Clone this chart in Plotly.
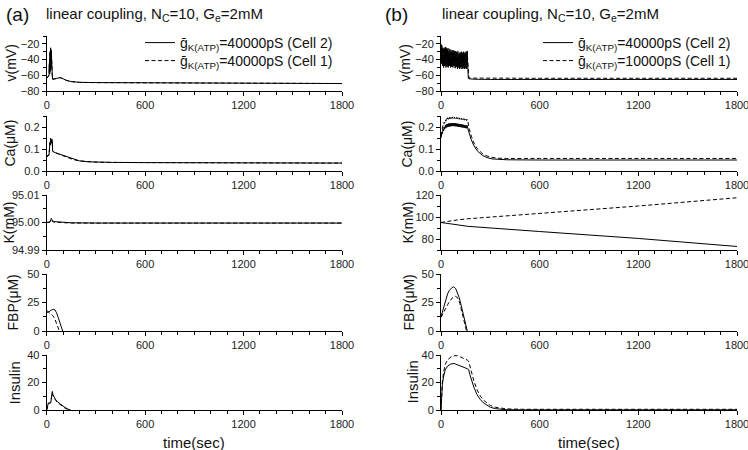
import plotly.graph_objects as go

# ---------------- data: panel (a) ----------------
a_v_t = [0, 5, 10, 14, 16, 18, 20, 22, 24, 26, 28, 30, 32, 34, 36, 40, 50, 60, 70, 80, 90, 100, 120, 150, 200, 300, 600, 1200, 1800]
a_v_c2 = [-64, -62, -61, -60, -45, -58, -30, -55, -25, -50, -28, -54, -40, -60, -65, -65, -64.5, -64, -63.5, -63, -63.5, -64.5, -66.5, -68, -69, -69.3, -69.5, -69.8, -70.5]
a_v_c1 = [-64, -62, -61, -60, -48, -58, -33, -55, -27, -51, -30, -54, -42, -60, -65, -65, -64.5, -64, -63.5, -63, -63.5, -64.5, -66.5, -68, -69, -69.3, -69.5, -69.8, -70.5]

a_ca_t = [0, 3, 5, 14, 16, 20, 22, 24, 26, 28, 30, 32, 34, 36, 40, 50, 70, 100, 130, 160, 200, 250, 300, 400, 600, 1200, 1800]
a_ca_c2 = [0.062, 0.066, 0.070, 0.072, 0.110, 0.130, 0.120, 0.150, 0.125, 0.140, 0.130, 0.145, 0.135, 0.092, 0.088, 0.084, 0.079, 0.070, 0.061, 0.053, 0.046, 0.042, 0.040, 0.039, 0.038, 0.037, 0.036]
a_ca_c1 = [0.062, 0.066, 0.070, 0.072, 0.105, 0.128, 0.118, 0.145, 0.122, 0.137, 0.128, 0.140, 0.132, 0.090, 0.087, 0.083, 0.078, 0.069, 0.060, 0.052, 0.046, 0.042, 0.040, 0.039, 0.038, 0.037, 0.036]

a_k_t = [0, 20, 25, 28, 32, 36, 50, 80, 120, 150, 300, 600, 1200, 1800]
a_k_c2 = [95.0, 95.0002, 95.0010, 95.0015, 95.0010, 95.0005, 95.0003, 95.0002, 95.0, 94.9999, 94.9998, 94.9998, 94.9998, 94.9998]
a_k_c1 = [95.0, 95.0001, 95.0006, 95.0009, 95.0006, 95.0003, 95.0001, 95.0, 94.9999, 94.9998, 94.9998, 94.9998, 94.9998, 94.9998]

a_fbp_t2 = [0, 10, 20, 30, 40, 50, 60, 70, 80, 90, 97]
a_fbp_c2 = [16, 16.5, 17.5, 18.5, 19, 18.5, 16, 12, 7.5, 3, 0]
a_fbp_t1 = [0, 10, 20, 30, 40, 50, 60, 70, 77]
a_fbp_c1 = [18, 16.5, 15.5, 14.5, 13, 10.5, 7, 3, 0]

a_ins_t = [0, 3, 6, 10, 20, 25, 30, 34, 38, 45, 55, 65, 75, 90, 110, 130, 145]
a_ins_c2 = [0, 2, 4.5, 5, 5, 5.5, 10, 13.5, 11, 9, 7.5, 6, 5, 3.5, 2, 0.6, 0]
a_ins_c1 = [0, 2, 4.5, 5, 5, 5.5, 10, 12.5, 10.5, 8.5, 7, 5.5, 4.5, 3, 1.5, 0.3, 0]

# ---------------- data: panel (b) ----------------
b_burst_t = [0, 2, 5, 9, 12, 16, 19, 23, 26, 30, 33, 37, 40, 44, 47, 51, 54, 58, 61, 65, 68, 72, 75, 79, 82, 86,
             89, 93, 96, 100, 103, 107, 110, 114, 117, 121, 124, 128, 131, 135, 138, 142, 145, 149, 152, 156, 159, 163, 166]
b_v_tail_t = [170, 200, 300, 600, 1200, 1800]
b_v_c2 = [-20, -45, -22, -48, -25, -50, -27, -48, -24, -50, -28, -49, -26, -50, -30, -48, -27, -50, -31, -49, -28, -50,
          -32, -48, -29, -51, -33, -49, -30, -52, -34, -50, -31, -52, -35, -50, -30, -52, -33, -51, -30, -52, -34, -51,
          -30, -52, -29, -52, -64,
          -64.5, -65, -65.3, -65.3, -65.3, -65.3]
b_v_c1 = [-22, -42, -24, -46, -27, -47, -24, -46, -28, -47, -25, -46, -29, -48, -26, -47, -30, -46, -27, -48, -30, -47,
          -28, -48, -31, -47, -28, -49, -32, -48, -29, -49, -33, -48, -30, -50, -34, -48, -31, -49, -32, -50, -30, -49,
          -33, -50, -31, -49, -63,
          -63.3, -63.6, -63.8, -63.8, -63.8, -63.8]

b_ca_tail_t = [170, 185, 200, 220, 250, 280, 310, 350, 400, 600, 1200, 1800]
b_ca_c2 = [0.150, 0.155, 0.172, 0.170, 0.190, 0.182, 0.200, 0.190, 0.208, 0.196, 0.212, 0.199, 0.214, 0.201, 0.216,
           0.202, 0.217, 0.203, 0.218, 0.204, 0.218, 0.204, 0.218, 0.204, 0.217, 0.203, 0.217, 0.203, 0.216, 0.202,
           0.215, 0.201, 0.214, 0.200, 0.213, 0.199, 0.212, 0.198, 0.211, 0.197, 0.210, 0.196, 0.209, 0.195, 0.208,
           0.194, 0.207, 0.193, 0.185,
           0.170, 0.140, 0.115, 0.092, 0.072, 0.061, 0.055, 0.052, 0.051, 0.050, 0.050, 0.050]
b_ca_c1 = [0.160, 0.168, 0.185, 0.190, 0.207, 0.205, 0.222, 0.218, 0.232, 0.226, 0.238, 0.232, 0.242, 0.235, 0.244,
           0.237, 0.245, 0.238, 0.246, 0.239, 0.246, 0.239, 0.246, 0.239, 0.245, 0.238, 0.245, 0.238, 0.244, 0.237,
           0.243, 0.236, 0.242, 0.235, 0.241, 0.234, 0.240, 0.233, 0.239, 0.232, 0.238, 0.231, 0.237, 0.230, 0.236,
           0.229, 0.235, 0.228, 0.215,
           0.195, 0.158, 0.128, 0.102, 0.080, 0.068, 0.062, 0.058, 0.057, 0.057, 0.057, 0.057]

b_k_t = [0, 50, 100, 165, 600, 1200, 1800]
b_k_c2 = [95, 93.9, 92.8, 91.5, 86.8, 80.5, 73.2]
b_k_c1 = [95, 96.3, 97.4, 98.4, 103.3, 110.0, 117.5]

b_fbp_t2 = [0, 10, 20, 30, 40, 50, 60, 70, 75, 80, 90, 100, 110, 120, 130, 140, 150, 160]
b_fbp_c2 = [12.5, 18, 23.5, 28.5, 32.5, 35.5, 37.5, 38.5, 38.7, 38.5, 37, 34, 29.5, 24, 18, 12, 6, 0]
b_fbp_t1 = [0, 10, 20, 30, 40, 50, 60, 70, 80, 87, 95, 105, 115, 125, 135, 145, 155]
b_fbp_c1 = [12, 15, 18, 20.5, 23, 25.5, 27.5, 29.3, 30.3, 30.5, 30, 28, 24, 18.5, 12.5, 6.5, 0]

b_ins_t = [0, 3, 8, 15, 25, 40, 60, 80, 100, 120, 140, 160, 168, 175, 185, 200, 220, 240, 260, 280, 300, 330, 360, 400, 500, 1800]
b_ins_c2 = [0, 8, 18, 24, 29, 32, 33.5, 33.8, 33, 32, 31, 30, 29.5, 26, 22, 16.5, 11, 7.5, 5, 3.2, 2, 1, 0.5, 0.2, 0.1, 0.1]
b_ins_c1 = [0, 10, 20, 27, 33, 36.5, 38.5, 39.5, 39.5, 38.5, 37.5, 36.3, 35.5, 32, 27, 21, 14.5, 10, 7, 4.8, 3.3, 2, 1.3, 0.8, 0.5, 0.5]

x_ticks = [0, 600, 1200, 1800]
legend_a = ["ḡ<sub>K(ATP)</sub>=40000pS (Cell 2)", "ḡ<sub>K(ATP)</sub>=40000pS (Cell 1)"]
legend_b = ["ḡ<sub>K(ATP)</sub>=40000pS (Cell 2)", "ḡ<sub>K(ATP)</sub>=10000pS (Cell 1)"]
y_titles = ["v(mV)", "Ca(μM)", "K(mM)", "FBP(μM)", "Insulin"]

# ---------------- layout helpers ----------------
W, H = 748, 450
col_px = [(46.7, 342.0), (441.0, 737.0)]
row_px = [(36, 91), (116, 171), (195, 250), (274, 331), (355, 410)]
title_x = [[11, 9, 8, 12, 14], [405, 406, 407, 408, 412]]
legend_px = [(140, 43, 61), (538, 43, 61)]   # x of legend box, y of row 1, y of row 2
FONT = "Liberation Sans, Arial, sans-serif"

panels = [
    (0, 0, (a_v_t, a_v_c2, a_v_t, a_v_c1), dict(range=[-80, -10], dtick=20, tick0=-80, minor=10, fmt=None)),
    (0, 1, (a_ca_t, a_ca_c2, a_ca_t, a_ca_c1), dict(range=[0, 0.25], dtick=0.1, tick0=0, minor=0.05, fmt=".1f")),
    (0, 2, (a_k_t, a_k_c2, a_k_t, a_k_c1), dict(range=[94.99, 95.01], dtick=0.01, tick0=94.99, minor=0.005, fmt=".2f")),
    (0, 3, (a_fbp_t2, a_fbp_c2, a_fbp_t1, a_fbp_c1), dict(range=[0, 50], dtick=25, tick0=0, minor=12.5, fmt=None)),
    (0, 4, (a_ins_t, a_ins_c2, a_ins_t, a_ins_c1), dict(range=[0, 40], dtick=20, tick0=0, minor=10, fmt=None)),
    (1, 0, (b_burst_t + b_v_tail_t, b_v_c2, b_burst_t + b_v_tail_t, b_v_c1), dict(range=[-80, -10], dtick=20, tick0=-80, minor=10, fmt=None)),
    (1, 1, (b_burst_t + b_ca_tail_t, b_ca_c2, b_burst_t + b_ca_tail_t, b_ca_c1), dict(range=[0, 0.25], dtick=0.1, tick0=0, minor=0.05, fmt=".1f")),
    (1, 2, (b_k_t, b_k_c2, b_k_t, b_k_c1), dict(range=[70, 120], dtick=20, tick0=80, minor=10, fmt=None)),
    (1, 3, (b_fbp_t2, b_fbp_c2, b_fbp_t1, b_fbp_c1), dict(range=[0, 50], dtick=25, tick0=0, minor=12.5, fmt=None)),
    (1, 4, (b_ins_t, b_ins_c2, b_ins_t, b_ins_c1), dict(range=[0, 40], dtick=20, tick0=0, minor=10, fmt=None)),
]

fig = go.Figure()
layout = {}
annotations = []
legfont = dict(family=FONT, size=14, color="#111")

for col, row, (t2, v2, t1, v1), ys in panels:
    n = col * 5 + row + 1
    xid = "x" if n == 1 else f"x{n}"
    yid = "y" if n == 1 else f"y{n}"
    xk = "xaxis" if n == 1 else f"xaxis{n}"
    yk = "yaxis" if n == 1 else f"yaxis{n}"
    x0, x1 = col_px[col]
    top, bot = row_px[row]
    show = (row == 0)
    names = legend_a if col == 0 else legend_b
    leg_a = "legend" if col == 0 else "legend3"
    leg_b = "legend2" if col == 0 else "legend4"
    fig.add_trace(go.Scatter(x=t2, y=v2, mode="lines", xaxis=xid, yaxis=yid,
                             line=dict(color="black", width=1),
                             name=names[0], showlegend=show, legend=leg_a))
    fig.add_trace(go.Scatter(x=t1, y=v1, mode="lines", xaxis=xid, yaxis=yid,
                             line=dict(color="black", width=1, dash="4px,2.5px"),
                             name=names[1], showlegend=show, legend=leg_b))
    axfont = dict(family=FONT, size=11, color="#222")
    layout[xk] = dict(domain=[x0 / W, x1 / W], anchor=yid, range=[0, 1800], automargin=False,
                      tickmode="array", tickvals=x_ticks, ticks="outside", ticklen=4,
                      ticklabeloverflow="allow",
                      tickcolor="black", showline=True, linecolor="black", linewidth=1,
                      showgrid=False, zeroline=False, tickfont=axfont,
                      minor=dict(dtick=100, tick0=0, ticks="outside", ticklen=3, tickcolor="black", showgrid=False))
    yax = dict(domain=[1 - bot / H, 1 - top / H], anchor=xid, range=ys["range"], automargin=False,
               tick0=ys["tick0"], dtick=ys["dtick"], ticks="outside", ticklen=4,
               tickcolor="black", showline=True, linecolor="black", linewidth=1,
               showgrid=False, zeroline=False, tickfont=axfont,
               minor=dict(dtick=ys["minor"], ticks="outside", ticklen=3, tickcolor="black", showgrid=False))
    if ys["fmt"]:
        yax["tickformat"] = ys["fmt"]
    layout[yk] = yax
    annotations.append(dict(text=y_titles[row], textangle=-90, x=title_x[col][row] / W, y=1 - (top + bot) / 2 / H,
                            xref="paper", yref="paper", xanchor="center", yanchor="middle", showarrow=False,
                            font=dict(family=FONT, size=14 if row < 4 else 15, color="#111")))

annotations += [
    dict(text="(a)", x=4 / W, y=1 - 15 / H, xref="paper", yref="paper", xanchor="left", yanchor="middle",
         showarrow=False, font=dict(family=FONT, size=19, color="#111")),
    dict(text="linear coupling, N<sub>C</sub>=10, G<sub>e</sub>=2mM", x=44 / W, y=1 - 15 / H, xref="paper",
         yref="paper", xanchor="left", yanchor="middle", showarrow=False, font=dict(family=FONT, size=15, color="#111")),
    dict(text="(b)", x=383 / W, y=1 - 15 / H, xref="paper", yref="paper", xanchor="left", yanchor="middle",
         showarrow=False, font=dict(family=FONT, size=19, color="#111")),
    dict(text="linear coupling, N<sub>C</sub>=10, G<sub>e</sub>=2mM", x=440 / W, y=1 - 15 / H, xref="paper",
         yref="paper", xanchor="left", yanchor="middle", showarrow=False, font=dict(family=FONT, size=15, color="#111")),
    dict(text="time(sec)", x=194 / W, y=1 - 442 / H, xref="paper", yref="paper", xanchor="center", yanchor="middle",
         showarrow=False, font=dict(family=FONT, size=15, color="#111")),
    dict(text="time(sec)", x=589 / W, y=1 - 442 / H, xref="paper", yref="paper", xanchor="center", yanchor="middle",
         showarrow=False, font=dict(family=FONT, size=15, color="#111")),
]

legends = {}
for i, (lx, ly1, ly2) in enumerate(legend_px):
    for j, ly in enumerate((ly1, ly2)):
        key = ["legend", "legend2", "legend3", "legend4"][i * 2 + j]
        legends[key] = dict(x=lx / W, y=1 - ly / H, xanchor="left", yanchor="middle", font=legfont,
                            bgcolor="rgba(0,0,0,0)", itemwidth=30)

fig.update_layout(
    width=W, height=H, margin=dict(l=0, r=0, t=0, b=0, autoexpand=False),
    paper_bgcolor="white", plot_bgcolor="white",
    annotations=annotations,
    **legends,
    **layout,
)

fig.write_html("out.html", config={"displayModeBar": False, "staticPlot": True},
               post_script="document.body.style.margin='0';document.body.style.overflow='hidden';")
